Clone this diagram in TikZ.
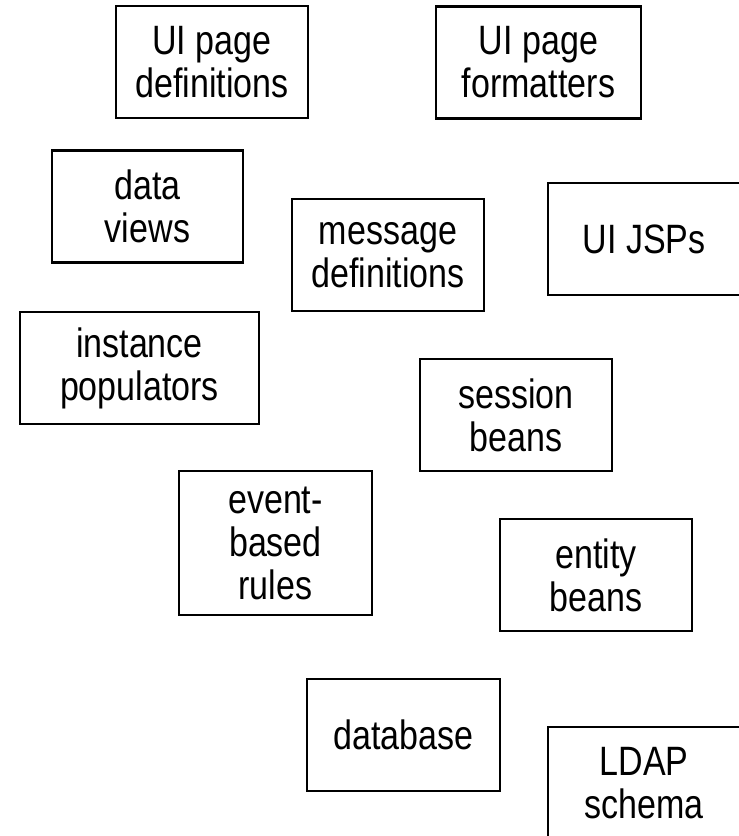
\documentclass[tikz,border=0pt]{standalone}
\usepackage{fontspec}
\setmainfont{Liberation Sans}[FakeStretch=0.83]
\begin{document}
\begin{tikzpicture}[x=1pt,y=-1pt,
  box/.style={draw=black, line width=2.2pt, rectangle, inner sep=0pt,
    align=center, font=\fontsize{41}{43}\selectfont, minimum height=112pt},
]
\useasboundingbox[fill=white] (0,0) rectangle (739,836);
\begin{scope}
\clip (0,0) rectangle (739,836);
\node[box, minimum width=192pt] (uidef) at (212,62) {UI page\\definitions};
\node[box, minimum width=205pt] (uifmt) at (538.5,62.5) {UI page\\formatters};
\node[box, minimum width=191pt] (dview) at (147.5,206.5) {data\\views};
\node[box, minimum width=192pt] (msgdef) at (388,255) {message\\definitions};
\node[box, minimum width=192pt] (uijsp) at (644,239) {UI JSPs};
\node[box, minimum width=239pt] (instpop) at (139.5,368) {instance\\populators};
\node[box, minimum width=192pt] (sess) at (516,415) {session\\beans};
\node[box, minimum width=193pt, minimum height=144pt] (rules) at (275.5,543) {event-\\based\\rules};
\node[box, minimum width=192pt] (entity) at (596,575) {entity\\beans};
\node[box, minimum width=193pt] (db) at (403.5,735) {database};
\node[box, minimum width=192pt] (ldap) at (644,783) {LDAP\\schema};
\end{scope}
\end{tikzpicture}
\end{document}
